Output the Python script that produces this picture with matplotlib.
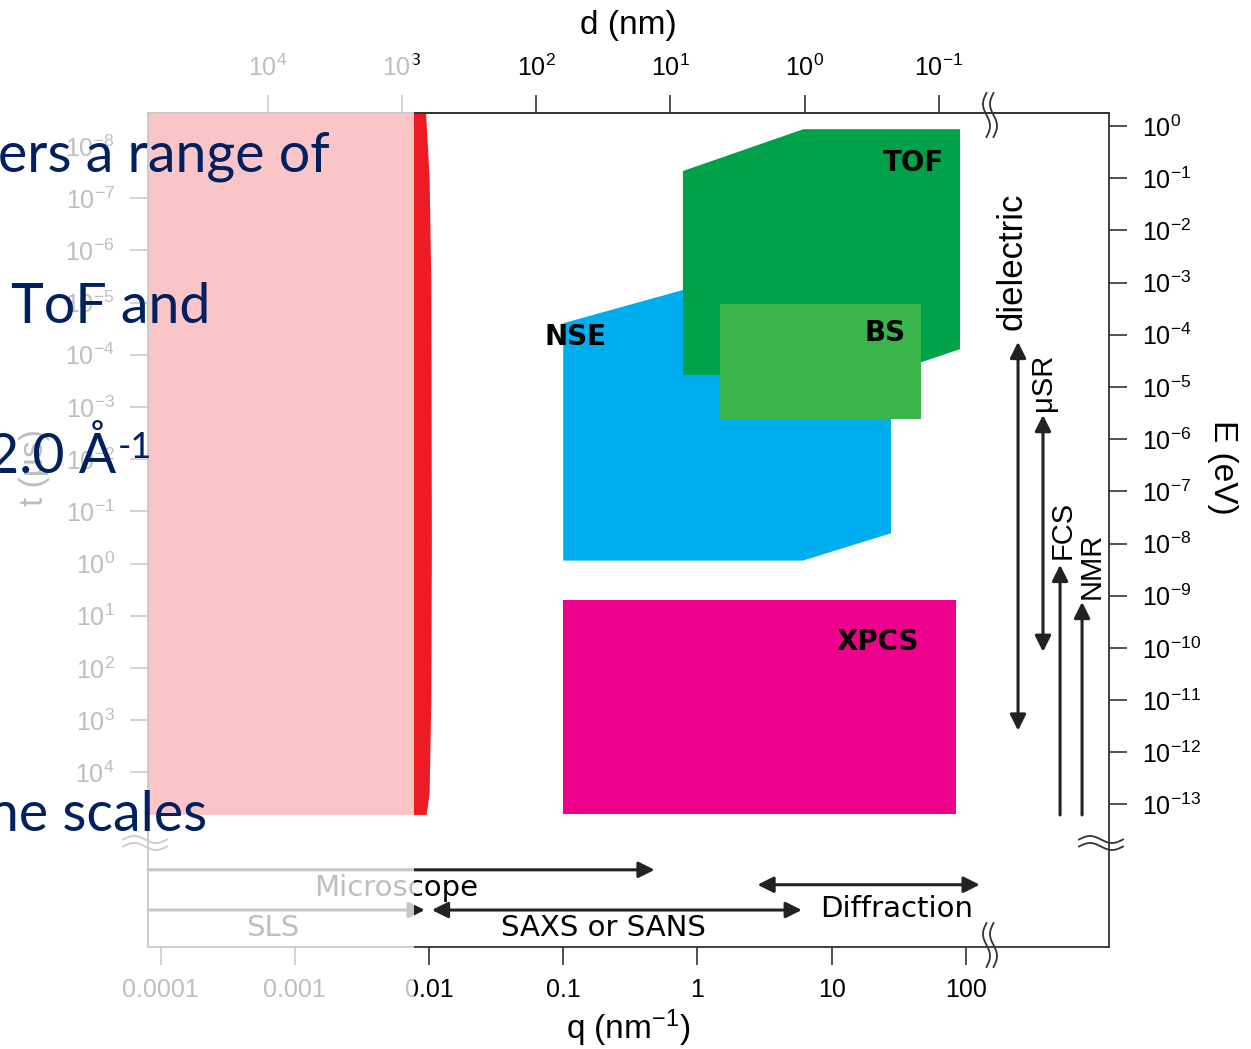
import numpy as np
import matplotlib
matplotlib.use("Agg")
import matplotlib.pyplot as plt
from matplotlib.patches import Rectangle
from matplotlib.lines import Line2D
from matplotlib.ticker import NullLocator

plt.rcParams['font.family'] = ['Liberation Sans', 'DejaVu Sans']
plt.rcParams['mathtext.fontset'] = 'custom'
plt.rcParams['mathtext.rm'] = 'Liberation Sans'
plt.rcParams['mathtext.default'] = 'regular'

W, H = 1251, 1049
H_EV_US = 4.136e-9  # Planck constant in eV * microsecond

# axis ranges
q_lim = (8.05e-5, 1167.0)
E_lim = (1.86e-16, 1.77)

# ticks
q_ticks = [1e-4, 1e-3, 1e-2, 1e-1, 1, 10, 100]
q_labels = ['0.0001', '0.001', '0.01', '0.1', '1', '10', '100']
d_exp = [4, 3, 2, 1, 0, -1]
E_exp = list(range(0, -14, -1))
t_exp = list(range(-8, 5))

# technique windows (q in nm^-1, E in eV)
light_q = [5e-5, 0.0094, 0.0101, 0.0104, 0.0105, 0.0104, 0.0101, 0.0096, 5e-5]
light_E = [3.0, 3.0, 0.1, 1e-3, 1e-8, 1e-11, 1.6e-13, 6.3e-14, 6.3e-14]

nse_q = [0.1, 6.1, 27.7, 27.7, 0.78, 0.1]
nse_E = [4.7e-9, 4.7e-9, 1.57e-8, 7.2e-4, 7.2e-4, 1.66e-4]

tof_q = [0.78, 6.15, 90.6, 90.6, 24.5, 0.78]
tof_E = [0.137, 0.865, 0.865, 5.3e-5, 1.7e-5, 1.7e-5]

bs_q = [1.47, 46.3]
bs_E = [2.4e-6, 3.9e-4]

xpcs_q = [0.1, 84.0]
xpcs_E = [6.5e-14, 8.1e-10]

block_labels = ['TOF', 'NSE', 'BS', 'XPCS']
block_label_q = [40.5, 0.124, 25.0, 22.2]
block_label_E = [0.195, 9.1e-5, 1.08e-4, 1.3e-10]

# horizontal ranges below the break: (start q, end q, E level, arrow style)
h_names = ['Microscope', 'SLS', 'SAXS or SANS', 'Diffraction']
h_q0 = [8.05e-5, 8.05e-5, 0.0105, 2.8]
h_q1 = [0.48, 0.0093, 6.0, 127.0]
h_E = [5.6e-15, 9.5e-16, 9.5e-16, 2.9e-15]
h_style = ['-|>', '-|>', '<|-|>', '<|-|>']
h_text_q = [0.00567, 6.8e-4, 0.198, 30.7]
h_text_E = [2.5e-15, 4.3e-16, 4.3e-16, 1.0e-15]

# vertical ranges on the right
v_names = ['dielectric', '\u03bcSR', 'FCS', 'NMR']
v_q = [245.0, 376.0, 504.0, 735.0]
v_E0 = [2.6e-12, 8.4e-11, 6.3e-14, 6.3e-14]
v_E1 = [7.3e-5, 2.9e-6, 3.9e-9, 7.6e-10]
v_style = ['<|-|>', '<|-|>', '-|>', '-|>']
v_text_q = [221.0, 379.0, 523.0, 871.0]
v_text_E = [2.5e-3, 1.2e-5, 1.8e-8, 3.7e-9]
v_text_size = [25, 21, 21, 21]

navy = '#002060'
ink = '#222222'

fig = plt.figure(figsize=(W / 100, H / 100), dpi=100)
ax = fig.add_axes([148 / W, 102 / H, 961 / W, 834 / H])
ax.set_xscale('log')
ax.set_yscale('log')
ax.set_xlim(*q_lim)
ax.set_ylim(*E_lim)

# coloured windows
ax.fill(light_q, light_E, color='#ED1C24', lw=0, zorder=1)
ax.fill(nse_q, nse_E, color='#00AEEF', lw=0, zorder=2)
ax.fill(tof_q, tof_E, color='#00A14B', lw=0, zorder=3)
ax.fill([bs_q[0], bs_q[1], bs_q[1], bs_q[0]], [bs_E[0], bs_E[0], bs_E[1], bs_E[1]],
        color='#39B54A', lw=0, zorder=4)
ax.fill([xpcs_q[0], xpcs_q[1], xpcs_q[1], xpcs_q[0]],
        [xpcs_E[0], xpcs_E[0], xpcs_E[1], xpcs_E[1]], color='#EC008C', lw=0, zorder=2)

for name, q, E in zip(block_labels, block_label_q, block_label_E):
    ax.text(q, E, name, ha='center', va='center', fontsize=20, fontweight='bold',
            family='DejaVu Sans', color='black', zorder=6)

arrow_kw = dict(color=ink, lw=2.2, shrinkA=0, shrinkB=0, mutation_scale=24)
for q0, q1, E, st in zip(h_q0, h_q1, h_E, h_style):
    ax.annotate('', xy=(q1, E), xytext=(q0, E), annotation_clip=False,
                arrowprops=dict(arrowstyle=st, **arrow_kw), zorder=5)
for name, q, E in zip(h_names, h_text_q, h_text_E):
    ax.text(q, E, name, ha='center', va='center', fontsize=21, family='DejaVu Sans',
            color='black', zorder=6)

for q, E0, E1, st in zip(v_q, v_E0, v_E1, v_style):
    ax.annotate('', xy=(q, E1), xytext=(q, E0), annotation_clip=False,
                arrowprops=dict(arrowstyle=st, **arrow_kw), zorder=5)
for name, q, E, fs in zip(v_names, v_text_q, v_text_E, v_text_size):
    ax.text(q, E, name, ha='center', va='center', rotation=90, fontsize=fs,
            color='black', zorder=6)

# axes styling
for sp in ax.spines.values():
    sp.set_color('#333333')
    sp.set_linewidth(1.3)
tick_kw = dict(which='major', direction='out', length=13, width=1.2, color='#333333',
               labelsize=18, labelcolor='black')

ax.set_xticks(q_ticks)
ax.set_xticklabels(q_labels)
ax.xaxis.set_minor_locator(NullLocator())
ax.yaxis.tick_right()
ax.set_yticks([10.0 ** e for e in E_exp])
ax.set_yticklabels(['$10^{%d}$' % e for e in E_exp])
ax.yaxis.set_minor_locator(NullLocator())
ax.tick_params(axis='x', pad=9, **tick_kw)
ax.tick_params(axis='y', pad=11, **tick_kw)
ax.set_xlabel('q (nm$^{-1}$)', fontsize=24)
ax.xaxis.set_label_coords(0.4995, -0.097)
ax.xaxis.label.set_va('center')
ax.yaxis.set_label_position('right')
ax.set_ylabel('E (eV)', fontsize=24, rotation=-90, va='center', ha='center')
ax.yaxis.set_label_coords(1.1176, 0.5755)

top = ax.secondary_xaxis('top', functions=(lambda q: 2 * np.pi / np.maximum(q, 1e-300),
                                           lambda d: 2 * np.pi / np.maximum(d, 1e-300)))
top.set_xticks([10.0 ** e for e in d_exp])
top.set_xticklabels(['$10^{%d}$' % e for e in d_exp])
top.xaxis.set_minor_locator(NullLocator())
top.tick_params(axis='x', pad=10, **tick_kw)
top.spines['top'].set_color('#333333')
top.spines['top'].set_linewidth(1.3)
top.set_xlabel('d (nm)', fontsize=24)
top.xaxis.set_label_coords(0.4995, 1.1055, transform=ax.transAxes)
top.xaxis.label.set_va('center')

left = ax.secondary_yaxis('left', functions=(lambda E: H_EV_US / np.maximum(E, 1e-300),
                                             lambda t: H_EV_US / np.maximum(t, 1e-300)))
left.set_yticks([10.0 ** e for e in t_exp])
left.set_yticklabels(['$10^{%d}$' % e for e in t_exp])
left.yaxis.set_minor_locator(NullLocator())
left.tick_params(axis='y', pad=11, **tick_kw)
left.spines['left'].set_color('#333333')
left.spines['left'].set_linewidth(1.3)
left.set_ylabel('t (\u03bcs)', fontsize=24, va='center', ha='center')
left.yaxis.set_label_coords(-0.1176, 0.5755, transform=ax.transAxes)

# axis break marks (pixel positions of the reference figure)
def wavy(cx, cy, vertical, length=44, amp=3.5, gap=7):
    s = np.linspace(-0.5, 0.5, 60)
    for off in (-gap / 2, gap / 2):
        a = s * length
        b = amp * np.sin(2 * np.pi * s) + off
        xs, ys = (cx + b, cy + a) if vertical else (cx + a, cy + b)
        fig.add_artist(Line2D(xs / W, 1 - ys / H, transform=fig.transFigure,
                              color='#333333', lw=1.3, zorder=5))

wavy(990, 115, True)
wavy(990, 945, True)
wavy(145, 843, False)
wavy(1101, 843, False)

# translucent slide box fading the left part of the figure
fig.add_artist(Rectangle((0, 0), 414 / W, 1, transform=fig.transFigure,
                         facecolor='white', edgecolor='none', alpha=0.75, zorder=10))

slide_kw = dict(family='Lato', color=navy, fontsize=40, ha='left', va='baseline', zorder=11)
fig.text(-2 / W, 1 - 171.7 / H, 'ers a range of', **slide_kw)
fig.text(11 / W, 1 - 323.3 / H, 'ToF and', **slide_kw)
angstrom = fig.text(-13 / W, 1 - 473 / H, '2.0 \u00c5', **slide_kw)
fig.text(-12 / W, 1 - 831 / H, 'ne scales', **slide_kw)

# superscript placed right after the Angstrom sign
fig.canvas.draw()
bb = angstrom.get_window_extent()
fig.text(bb.x1 / W + 2 / W, 1 - 458 / H, '-1', family='Lato', color=navy, fontsize=26,
         ha='left', va='baseline', zorder=11)

fig.savefig('out.png', dpi=100, facecolor='white')
